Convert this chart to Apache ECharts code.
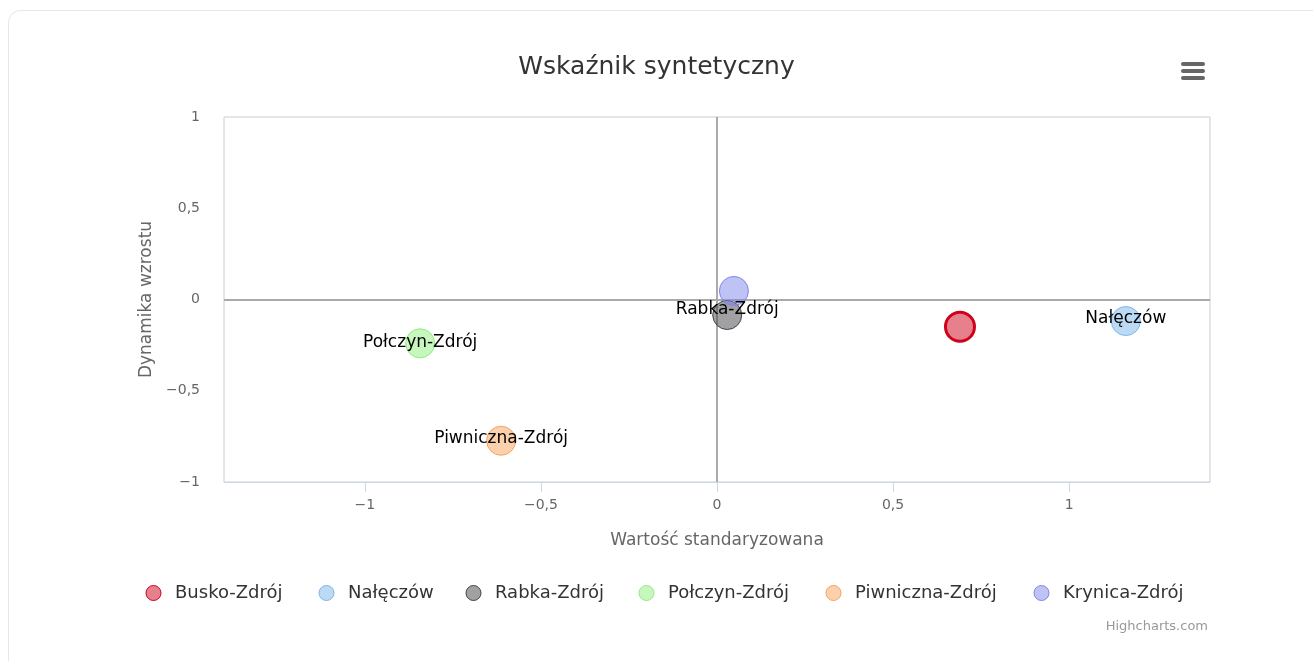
<!DOCTYPE html>
<html><head><meta charset="utf-8">
<script src="https://cdn.jsdelivr.net/npm/echarts@6/dist/echarts.min.js"></script>
<style>html,body{margin:0;padding:0;background:#fff}#c{width:1313px;height:661px}</style>
</head><body><div id="c"></div>
<script>
const seriesNames = ['Busko-Zdrój', 'Nałęczów', 'Rabka-Zdrój', 'Połczyn-Zdrój', 'Piwniczna-Zdrój', 'Krynica-Zdrój'];
const xValues = [0.690, 1.161, 0.029, -0.843, -0.613, 0.048];
const yValues = [-0.149, -0.118, -0.085, -0.240, -0.774, 0.047];
const xTicks = [-1, -0.5, 0, 0.5, 1];
const yTicks = [-1, -0.5, 0, 0.5, 1];

const fillColors = ['rgba(208,2,27,0.5)', 'rgba(124,181,236,0.5)', 'rgba(67,67,72,0.5)', 'rgba(144,237,125,0.5)', 'rgba(247,163,92,0.5)', 'rgba(128,133,233,0.5)'];
const strokeColors = ['#d0021b', '#7cb5ec', '#434348', '#90ed7d', '#f7a35c', '#8085e9'];
const strokeWidths = [3, 1, 1, 1, 1, 1];
const labelShown = [false, true, true, true, true, false];
const labelOffsets = [-2, -2, -5, -1, -2, -2];
const legendLefts = [145.5, 318.5, 465.5, 638.5, 825.5, 1033.5];

const FONT = 'DejaVu Sans';
const fmt = v => String(v).replace('.', ',').replace('-', '\u2212');

const chart = echarts.init(document.getElementById('c'), null, {renderer: 'canvas'});

const series = seriesNames.map((name, i) => ({
  name,
  type: 'scatter',
  symbol: 'circle',
  symbolSize: 29,
  data: [[xValues[i], yValues[i]]],
  itemStyle: {color: fillColors[i], borderColor: strokeColors[i], borderWidth: strokeWidths[i], opacity: 1},
  label: {
    show: labelShown[i], position: 'inside', offset: [0, labelOffsets[i]],
    formatter: name, color: '#000', fontFamily: FONT, fontSize: 17
  },
  emphasis: {disabled: true},
  z: 3
}));
series[0].markLine = {
  silent: true, symbol: 'none', label: {show: false},
  lineStyle: {color: '#aaa', width: 2, type: 'solid'},
  data: [{xAxis: 0}, {yAxis: 0}],
  z: 1
};

const legends = seriesNames.map((name, i) => ({
  show: true,
  left: legendLefts[i], top: 584, padding: 0,
  icon: 'circle', itemWidth: 15, itemHeight: 15, itemGap: 0,
  textStyle: {color: '#333', fontFamily: FONT, fontSize: 18, padding: [0, 0, 0, 9]},
  data: [{name, itemStyle: {borderWidth: 1}}],
  selectedMode: false
}));

chart.setOption({
  animation: false,
  backgroundColor: '#fff',
  title: {
    text: 'Wskaźnik syntetyczny', left: 'center', top: 50,
    textStyle: {color: '#333', fontFamily: FONT, fontSize: 25, fontWeight: 'normal'}
  },
  legend: legends,
  grid: {left: 224, right: 103, top: 117, bottom: 179, show: true, borderColor: '#ccc', borderWidth: 1, backgroundColor: 'transparent'},
  xAxis: {
    type: 'value', min: -1.4, max: 1.4,
    name: 'Wartość standaryzowana', nameLocation: 'middle', nameGap: 50,
    nameTextStyle: {color: '#666', fontFamily: FONT, fontSize: 17},
    axisLine: {show: true, onZero: false, lineStyle: {color: '#ccd6eb', width: 1}},
    axisTick: {show: true, length: 10, lineStyle: {color: '#ccd6eb'}, customValues: xTicks},
    axisLabel: {color: '#666', fontFamily: FONT, fontSize: 14, margin: 16, customValues: xTicks, formatter: fmt},
    splitLine: {show: false}
  },
  yAxis: {
    type: 'value', min: -1, max: 1, interval: 0.5,
    name: 'Dynamika wzrostu', nameLocation: 'middle', nameGap: 67, nameRotate: 90,
    nameTextStyle: {color: '#666', fontFamily: FONT, fontSize: 17},
    axisLine: {show: false},
    axisTick: {show: false},
    axisLabel: {color: '#666', fontFamily: FONT, fontSize: 14, margin: 24, customValues: yTicks, formatter: fmt},
    splitLine: {show: false}
  },
  graphic: [
    {type: 'rect', left: 6, top: 8, z: -10, silent: true,
     shape: {x: 0, y: 0, width: 1330, height: 680, r: 12},
     style: {fill: 'none', stroke: '#e6e6e6', lineWidth: 1}},
    {type: 'rect', left: 1181, top: 62, silent: true, shape: {width: 24, height: 4, r: 2}, style: {fill: '#666'}},
    {type: 'rect', left: 1181, top: 69, silent: true, shape: {width: 24, height: 4, r: 2}, style: {fill: '#666'}},
    {type: 'rect', left: 1181, top: 76, silent: true, shape: {width: 24, height: 4, r: 2}, style: {fill: '#666'}},
    {type: 'text', right: 105, top: 620, silent: true,
     style: {text: 'Highcharts.com', fill: '#999', font: '13px "DejaVu Sans"'}}
  ],
  series
});
</script>
</body></html>
